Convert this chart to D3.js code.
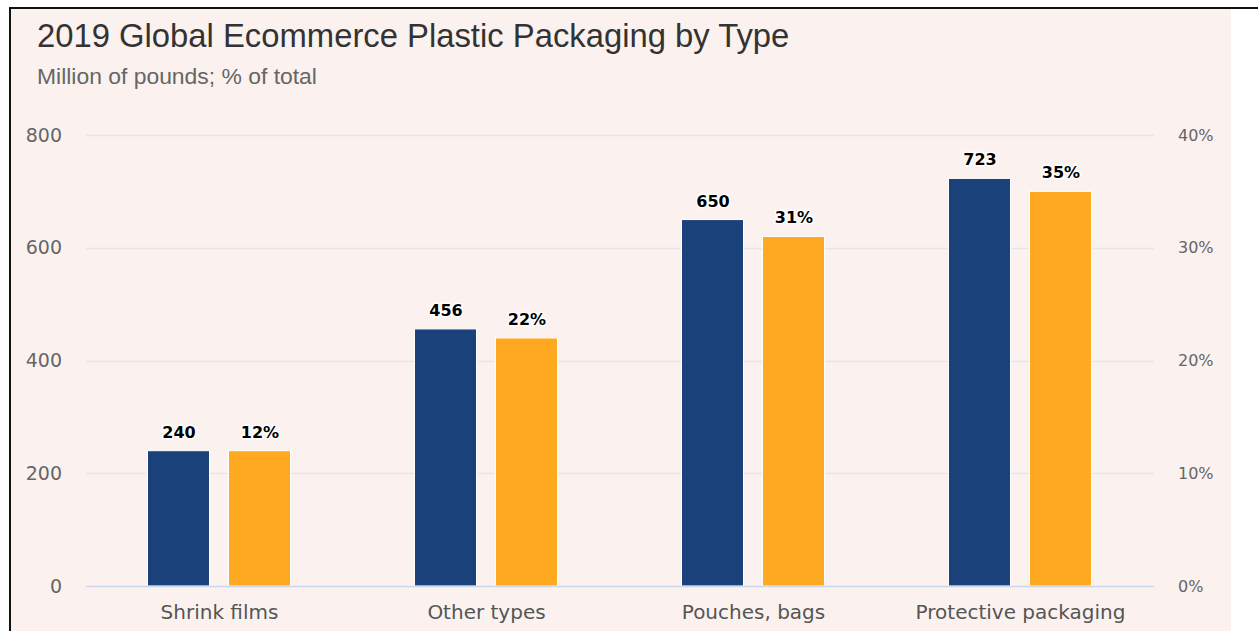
<!DOCTYPE html>
<html>
<head>
<meta charset="utf-8">
<script src="https://cdnjs.cloudflare.com/ajax/libs/d3/7.8.5/d3.min.js"></script>
<style>
  html, body { margin: 0; padding: 0; background: #ffffff; }
  svg { display: block; }
</style>
</head>
<body>
<svg id="chart" width="1258" height="631"></svg>
<script>
// Packaging types and their volumes / shares
const categories = ["Shrink films", "Other types", "Pouches, bags", "Protective packaging"];
const pounds = [240, 456, 650, 723];       // million of pounds
const shares = [12, 22, 31, 35];           // % of total
const leftTicks = [0, 200, 400, 600, 800];
const rightTicks = [0, 10, 20, 30, 40];

const svg = d3.select("#chart");

// frame and panel
svg.append("rect").attr("x", 10).attr("y", 8).attr("width", 1221).attr("height", 623).attr("fill", "#fbf2ef");
svg.append("line").attr("x1", 9).attr("x2", 1258).attr("y1", 8).attr("y2", 8).attr("stroke", "#111").attr("stroke-width", 2);
svg.append("line").attr("x1", 10).attr("x2", 10).attr("y1", 7).attr("y2", 631).attr("stroke", "#111").attr("stroke-width", 2);

// titles
svg.append("text").attr("x", 37).attr("y", 47)
  .attr("font-family", "Liberation Sans, Arial, sans-serif").attr("font-size", 32.8).attr("fill", "#333")
  .text("2019 Global Ecommerce Plastic Packaging by Type");
svg.append("text").attr("x", 37).attr("y", 84)
  .attr("font-family", "Liberation Sans, Arial, sans-serif").attr("font-size", 22.9).attr("fill", "#666")
  .text("Million of pounds; % of total");

const plotLeft = 86, plotRight = 1154, plotTop = 135, plotBottom = 586;

const x0 = d3.scaleBand().domain(categories).range([plotLeft, plotRight]).paddingInner(0).paddingOuter(0);
const yL = d3.scaleLinear().domain([0, 800]).range([plotBottom, plotTop]);
const yR = d3.scaleLinear().domain([0, 40]).range([plotBottom, plotTop]);

const labelFont = "DejaVu Sans, Verdana, sans-serif";

// gridlines
svg.append("g").selectAll("line").data(leftTicks.slice(1)).join("line")
  .attr("x1", plotLeft).attr("x2", plotRight)
  .attr("y1", d => Math.round(yL(d)) + 0.5).attr("y2", d => Math.round(yL(d)) + 0.5)
  .attr("stroke", "#e6e6e6").attr("stroke-width", 1.5);

// left axis
const axL = svg.append("g").attr("transform", `translate(${plotLeft},0)`)
  .call(d3.axisLeft(yL).tickValues(leftTicks).tickSize(0).tickPadding(24));
axL.select(".domain").remove();
axL.selectAll("text").attr("font-family", labelFont).attr("font-size", 19).attr("fill", "#666");

// right axis
const axR = svg.append("g").attr("transform", `translate(${plotRight},0)`)
  .call(d3.axisRight(yR).tickValues(rightTicks).tickSize(0).tickPadding(24).tickFormat(d => d + "%"));
axR.select(".domain").remove();
axR.selectAll("text").attr("font-family", labelFont).attr("font-size", 16).attr("fill", "#666");

// bars
const barW = 62, gap = 19;
const groups = svg.append("g").selectAll("g").data(categories).join("g")
  .attr("transform", d => `translate(${x0(d) + x0.bandwidth() / 2},0)`);

groups.append("rect")
  .attr("x", -(barW + gap / 2) - 0.5).attr("width", barW)
  .attr("y", (d, i) => yL(pounds[i])).attr("height", (d, i) => plotBottom - yL(pounds[i]))
  .attr("fill", "#1b417b").attr("stroke", "#ffffff").attr("stroke-width", 1);

groups.append("rect")
  .attr("x", gap / 2 - 0.5).attr("width", barW)
  .attr("y", (d, i) => yR(shares[i])).attr("height", (d, i) => plotBottom - yR(shares[i]))
  .attr("fill", "#ffa921").attr("stroke", "#ffffff").attr("stroke-width", 1);

// x axis line
svg.append("line").attr("x1", plotLeft).attr("x2", plotRight)
  .attr("y1", plotBottom + 0.5).attr("y2", plotBottom + 0.5)
  .attr("stroke", "#ccd6eb").attr("stroke-width", 1.5);

// value labels
function valueLabel(sel, xPos, yPos, txt) {
  sel.append("text").attr("x", xPos).attr("y", yPos).attr("text-anchor", "middle")
    .attr("font-family", labelFont).attr("font-size", 16).attr("font-weight", "bold")
    .attr("fill", "#000").attr("stroke", "#fff").attr("stroke-width", 3).attr("paint-order", "stroke")
    .attr("stroke-linejoin", "round").text(txt);
}
groups.each(function(d, i) {
  const g = d3.select(this);
  valueLabel(g, -(barW / 2 + gap / 2), yL(pounds[i]) - 13, pounds[i]);
  valueLabel(g, barW / 2 + gap / 2, yR(shares[i]) - 13, shares[i] + "%");
});

// category labels
svg.append("g").selectAll("text").data(categories).join("text")
  .attr("x", d => x0(d) + x0.bandwidth() / 2).attr("y", 619)
  .attr("text-anchor", "middle").attr("font-family", labelFont).attr("font-size", 20).attr("fill", "#555")
  .text(d => d);
</script>
</body>
</html>
